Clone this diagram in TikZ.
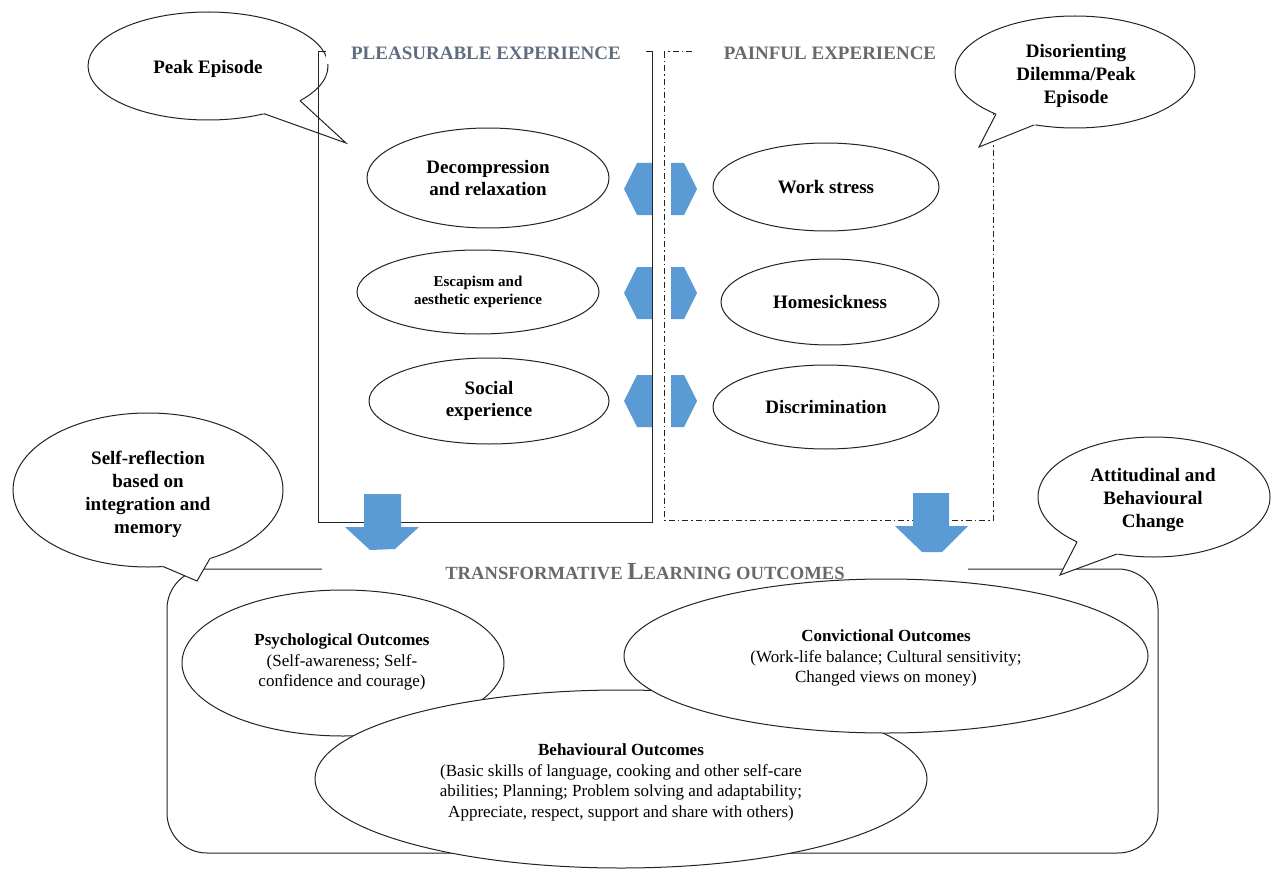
\documentclass[tikz,border=0pt]{standalone}
\usepackage{fontspec}
\setmainfont{Liberation Serif}
\usetikzlibrary{shapes.geometric,calc}
\definecolor{arrowblue}{RGB}{91,155,213}
\definecolor{pleasgray}{RGB}{95,108,130}
\definecolor{paingray}{RGB}{105,105,105}
\definecolor{linegray}{RGB}{35,35,35}
\newcommand\calloutTail[3]{%
  \fill[white] (#2) -- ($(#2)!1.3!(#1)$) -- ($(#2)!1.3!(#3)$) -- cycle;
  \draw[callline] (#1) -- (#2) -- (#3);}
\begin{document}
\begin{tikzpicture}[x=1pt,y=-1pt,
  callline/.style={draw=linegray,line width=1pt,line join=miter},
  oval/.style={ellipse,draw=linegray,line width=1pt,fill=white,inner sep=0pt,align=center,
    font=\bfseries\fontsize{19}{22.5}\selectfont},
  outoval/.style={ellipse,draw=linegray,line width=1pt,fill=white,inner sep=0pt},
  outtext/.style={align=center,inner sep=0pt,font=\fontsize{17}{20.5}\selectfont},
  calltext/.style={align=center,inner sep=0pt,font=\bfseries\fontsize{19}{23}\selectfont},
  frameline/.style={draw=linegray,line width=1pt},
  dashframe/.style={draw=linegray,line width=1pt,dash pattern=on 6pt off 3pt on 1.5pt off 3pt},
  blockarrow/.style={fill=arrowblue,draw=none},
  header/.style={inner sep=0pt,font=\bfseries\fontsize{19}{22}\selectfont}
]
\useasboundingbox (0,0) rectangle (1271,869);

% ---------- right frame (painful) ----------
\draw[dashframe] (664,52) -- (664,520) -- (993,520) -- (993,52) -- cycle;
\fill[white] (692,41) rectangle (1000,63);
\node[header,text=paingray] (painhead) at (830,53) {PAINFUL EXPERIENCE};

% ---------- double arrows (heads either side of the frame gap) ----------
\foreach \cy/\nm in {189/da1,293/da2,401/da3}{
  \fill[blockarrow] (624,\cy) -- (637,\cy-26) -- (652,\cy-26) -- (652,\cy+26) -- (637,\cy+26) -- cycle;
  \fill[blockarrow] (697,\cy) -- (684,\cy-26) -- (671,\cy-26) -- (671,\cy+26) -- (684,\cy+26) -- cycle;
  \coordinate (\nm) at (660,\cy);
}

% ---------- Peak episode callout ----------
\node[oval,minimum width=240pt,minimum height=108pt] (peak) at (208,66) {};
\node[calltext] (peaktext) at (208,69) {Peak Episode};
\calloutTail{300,100.7}{346,143}{264,113.7}

% ---------- left frame (pleasurable) ----------
\draw[frameline] (318,52) -- (318,522) -- (652,522) -- (652,52) -- cycle;
\node[header,fill=white,text=pleasgray,minimum width=320pt,minimum height=22pt] (pleashead) at (486,53) {PLEASURABLE EXPERIENCE};

% ---------- experience ellipses ----------
\node[oval,minimum width=242pt,minimum height=100pt] (decomp) at (488,178) {Decompression\\and relaxation};
\node[oval,minimum width=242pt,minimum height=84pt,font=\bfseries\fontsize{15}{18}\selectfont] (escap) at (478,292) {Escapism and\\aesthetic experience};
\node[oval,minimum width=240pt,minimum height=86pt] (social) at (489,401) {Social\\experience};
\node[oval,minimum width=226pt,minimum height=88pt] (work) at (826,187) {Work stress};
\node[oval,minimum width=218pt,minimum height=86pt] (home) at (830,302) {Homesickness};
\node[oval,minimum width=226pt,minimum height=84pt] (discr) at (826,407) {Discrimination};

% ---------- Disorienting callout ----------
\node[oval,minimum width=240pt,minimum height=112pt] (disor) at (1075,72) {};
\node[calltext] (disortext) at (1076,76) {Disorienting\\Dilemma/Peak\\Episode};
\calloutTail{996,114}{979,147}{1034,125}

% ---------- down arrows ----------
\fill[blockarrow] (364,494) -- (401,494) -- (401,527) -- (419,527) -- (395,549) -- (370,550) -- (345,527) -- (364,527) -- cycle;
\coordinate (downL) at (382,520);
\fill[blockarrow] (913,493) -- (949,493) -- (949,526) -- (968,526) -- (942,552) -- (922,552) -- (895,526) -- (913,526) -- cycle;
\coordinate (downR) at (931,520);

% ---------- outcomes box ----------
\draw[frameline,rounded corners=40pt] (167,569) rectangle (1158,853);
\node[fill=white,inner sep=0pt,minimum width=646pt,minimum height=20pt,text=paingray] (tlo) at (645,572)
  {\bfseries\fontsize{18.6}{20}\selectfont TRANSFORMATIVE {\fontsize{24.5}{24}\selectfont L}EARNING OUTCOMES};

\node[outoval,minimum width=322pt,minimum height=146pt] (psych) at (343,663) {};
\node[outtext] (psychtext) at (342,662) {\textbf{Psychological Outcomes}\\(Self-awareness; Self-\\confidence and courage)};

\node[outoval,minimum width=612pt,minimum height=178pt] (behav) at (621,779) {};
\node[outtext] (behavtext) at (621,782.5) {\textbf{Behavioural Outcomes}\\(Basic skills of language, cooking and other self-care\\abilities; Planning; Problem solving and adaptability;\\Appreciate, respect, support and share with others)};

\node[outoval,minimum width=524pt,minimum height=154pt] (conv) at (886,656) {};
\node[outtext] (convtext) at (886,658) {\textbf{Convictional Outcomes}\\(Work-life balance; Cultural sensitivity;\\Changed views on money)};

% ---------- Self-reflection callout ----------
\node[oval,minimum width=270pt,minimum height=154pt] (selfref) at (148,490) {};
\node[calltext] (selfreftext) at (148,494) {Self-reflection\\based on\\integration and\\memory};
\calloutTail{163,566.5}{197,581}{210,558.4}

% ---------- Attitudinal callout ----------
\node[oval,minimum width=232pt,minimum height=120pt] (attit) at (1154,497) {};
\node[calltext] (attittext) at (1153,500.5) {Attitudinal and\\Behavioural\\Change};
\calloutTail{1077,542}{1060,575}{1117,554}
\end{tikzpicture}
\end{document}
